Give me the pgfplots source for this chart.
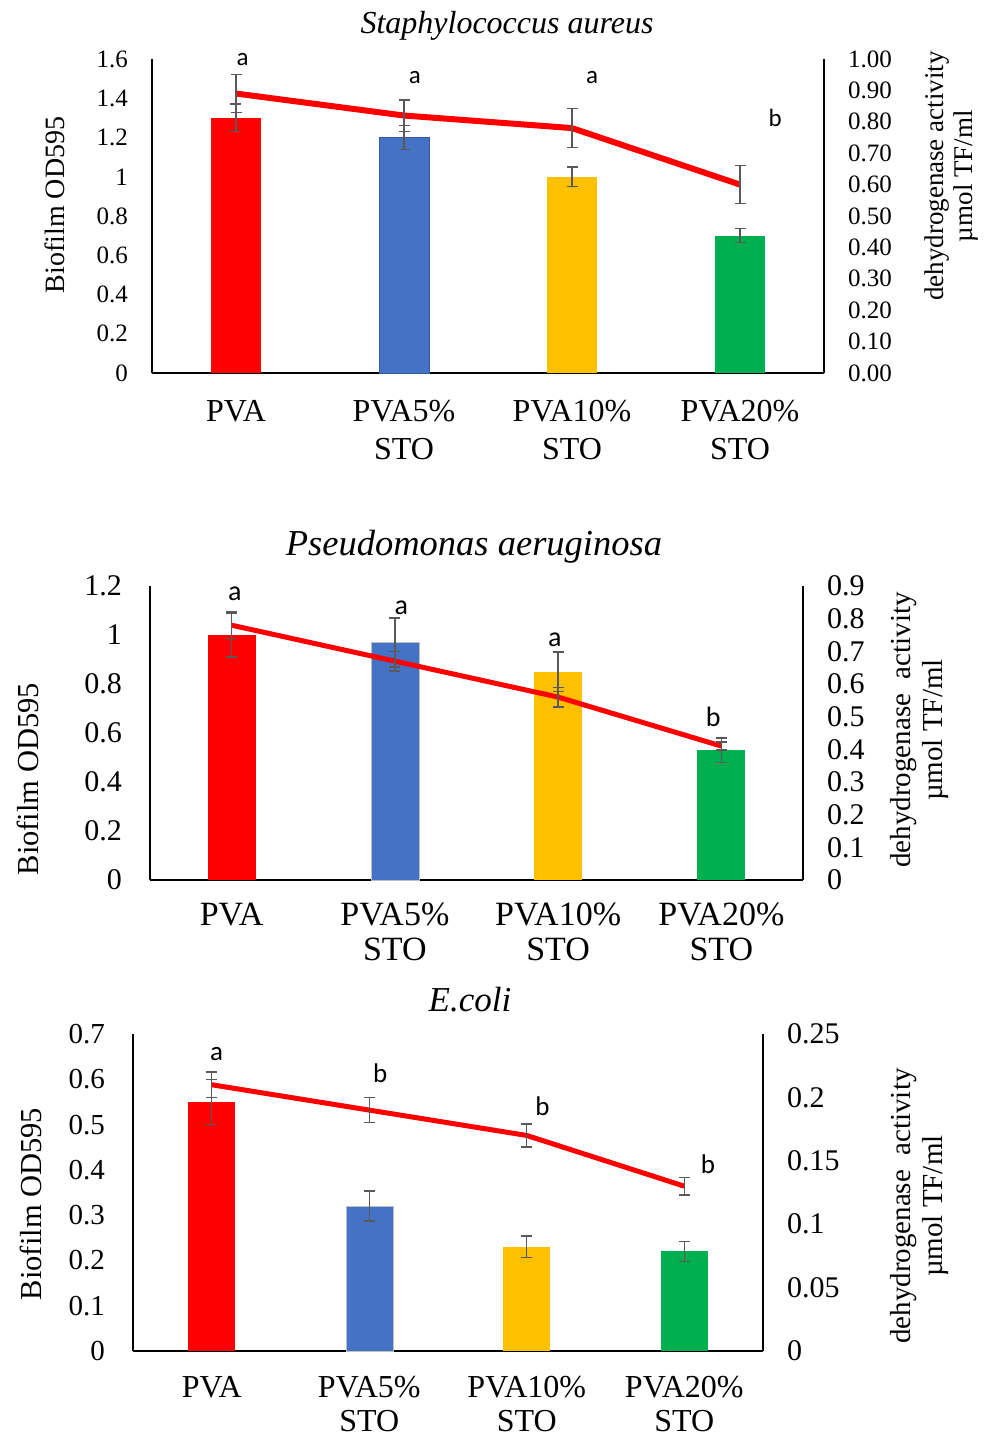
\documentclass[border=0pt]{standalone}
\usepackage{pgfplots}
\pgfplotsset{compat=1.18}
\usepackage{fontspec}
\setmainfont{Liberation Serif}
\newfontfamily\calfont{Carlito}
\definecolor{cred}{HTML}{FF0000}
\definecolor{cblue}{HTML}{4472C4}
\definecolor{cyel}{HTML}{FFC000}
\definecolor{cgreen}{HTML}{00B050}
\definecolor{cerr}{HTML}{595959}
\newcommand{\fs}[1]{\fontsize{#1}{#1}\selectfont}
\pgfplotsset{
  errs/.style={error bars/.cd, y dir=both, y explicit,
    error bar style={cerr,line width=1.4pt},
    error mark options={cerr,rotate=90,mark size=5.5pt,line width=1.4pt}},
  base/.style={scale only axis, anchor=south west, xmin=-0.5, xmax=3.5, clip=false,
    axis line style={black,line width=1.6pt}, major tick length=0pt,
    /pgf/number format/fixed,
    /pgf/number format/assume math mode=true},
  leftax/.style={base, axis x line*=bottom, axis y line*=left,
    xtick={0,1,2,3},
    xticklabels={PVA,{PVA5\%\\STO},{PVA10\%\\STO},{PVA20\%\\STO}},
    yticklabel style={anchor=east, inner sep=0pt, xshift=-24pt}},
  rightax/.style={base, axis x line=none, axis y line*=right,
    yticklabel style={anchor=west, inner sep=0pt, xshift=24pt}},
}
\begin{document}
\begin{tikzpicture}
\path[use as bounding box] (0,0) rectangle (991pt,-1436pt);

% ================= Panel 1 =================
\begin{axis}[leftax, at={(152pt,-373pt)}, width=672pt, height=314pt,
  ymin=0, ymax=1.6, ytick={0,0.2,0.4,0.6,0.8,1,1.2,1.4,1.6},
  yticklabel style={font=\fs{25}},
  xticklabel style={font=\fontsize{32}{38}\selectfont, align=center, anchor=north, inner sep=0pt, yshift=-27pt},
  ylabel={Biofilm OD595}, ylabel style={font=\fs{28}, at={(axis description cs:-0.144,0.535)}, anchor=center}]
\addplot[ybar, bar width=50pt, bar shift=0pt, fill=cred, draw=none, errs] coordinates {(0,1.30) +- (0,0.07)};
\addplot[ybar, bar width=50pt, bar shift=0pt, fill=cblue, draw=cblue!80!black, errs] coordinates {(1,1.20) +- (0,0.06)};
\addplot[ybar, bar width=50pt, bar shift=0pt, fill=cyel, draw=none, errs] coordinates {(2,1.00) +- (0,0.05)};
\addplot[ybar, bar width=50pt, bar shift=0pt, fill=cgreen, draw=none, errs] coordinates {(3,0.70) +- (0,0.035)};
\node[font=\calfont\fs{25}] at (axis cs:0.04,1.595) {a};
\node[font=\calfont\fs{25}] at (axis cs:1.065,1.508) {a};
\node[font=\calfont\fs{25}] at (axis cs:2.12,1.508) {a};
\node[font=\calfont\fs{25}] at (axis cs:3.21,1.30) {b};
\end{axis}
\begin{axis}[rightax, at={(152pt,-373pt)}, width=672pt, height=314pt,
  ymin=0, ymax=1, ytick={0,0.1,0.2,0.3,0.4,0.5,0.6,0.7,0.8,0.9,1},
  yticklabel style={font=\fs{25}, /pgf/number format/.cd, fixed, fixed zerofill, precision=2},
  ylabel={dehydrogenase activity\\\textmu mol TF/ml}, ylabel style={font=\fontsize{27}{29}\selectfont, align=center, at={(axis description cs:1.189,0.627)}, anchor=center, rotate=0}]
\addplot[cred, line width=6pt, mark=none, line join=round, errs] coordinates {(0,0.89) +- (0,0.06) (1,0.82) +- (0,0.05) (2,0.78) +- (0,0.062) (3,0.60) +- (0,0.06)};
\end{axis}
\node[font=\fs{32}\itshape] at (507pt,-26pt) {Staphylococcus aureus};

% ================= Panel 2 =================
\begin{axis}[leftax, at={(150pt,-880pt)}, width=653pt, height=294pt,
  ymin=0, ymax=1.2, ytick={0,0.2,0.4,0.6,0.8,1,1.2},
  yticklabel style={font=\fs{30}, xshift=-4pt},
  xticklabel style={font=\fontsize{34}{35}\selectfont, align=center, anchor=north, inner sep=0pt, yshift=-23pt},
  ylabel={Biofilm OD595}, ylabel style={font=\fs{30.5}, at={(axis description cs:-0.187,0.343)}, anchor=center}]
\addplot[ybar, bar width=48pt, bar shift=0pt, fill=cred, draw=none, errs] coordinates {(0,1.00) +- (0,0.09)};
\addplot[ybar, bar width=48pt, bar shift=0pt, fill=cblue, draw=gray!50, errs] coordinates {(1,0.97) +- (0,0.10)};
\addplot[ybar, bar width=48pt, bar shift=0pt, fill=cyel, draw=none, errs] coordinates {(2,0.85) +- (0,0.08)};
\addplot[ybar, bar width=48pt, bar shift=0pt, fill=cgreen, draw=none, errs] coordinates {(3,0.53) +- (0,0.05)};
\node[font=\calfont\fs{28}] at (axis cs:0.02,1.17) {a};
\node[font=\calfont\fs{28}] at (axis cs:1.04,1.11) {a};
\node[font=\calfont\fs{28}] at (axis cs:1.98,0.98) {a};
\node[font=\calfont\fs{28}] at (axis cs:2.95,0.665) {b};
\end{axis}
\begin{axis}[rightax, at={(150pt,-880pt)}, width=653pt, height=294pt,
  ymin=0, ymax=0.9, ytick={0,0.1,0.2,0.3,0.4,0.5,0.6,0.7,0.8,0.9},
  yticklabel style={font=\fs{30}},
  ylabel={dehydrogenase\ \ activity\\\textmu mol TF/ml}, ylabel style={font=\fontsize{29}{32}\selectfont, align=center, at={(axis description cs:1.178,0.51)}, anchor=center, rotate=0}]
\addplot[cred, line width=5pt, mark=none, line join=round, errs] coordinates {(0,0.78) +- (0,0.04) (1,0.67) +- (0,0.03) (2,0.56) +- (0,0.03) (3,0.41) +- (0,0.012)};
\end{axis}
\node[font=\fs{36.5}\itshape] at (474pt,-547pt) {Pseudomonas aeruginosa};

% ================= Panel 3 =================
\begin{axis}[leftax, at={(133pt,-1351pt)}, width=630pt, height=317pt,
  ymin=0, ymax=0.7, ytick={0,0.1,0.2,0.3,0.4,0.5,0.6,0.7},
  yticklabel style={font=\fs{29}, xshift=-4pt},
  xticklabel style={font=\fontsize{32}{34}\selectfont, align=center, anchor=north, inner sep=0pt, yshift=-25pt},
  ylabel={Biofilm OD595}, ylabel style={font=\fs{30.5}, at={(axis description cs:-0.162,0.464)}, anchor=center}]
\addplot[ybar, bar width=47pt, bar shift=0pt, fill=cred, draw=none, errs] coordinates {(0,0.55) +- (0,0.05)};
\addplot[ybar, bar width=47pt, bar shift=0pt, fill=cblue, draw=gray!50, errs] coordinates {(1,0.32) +- (0,0.033)};
\addplot[ybar, bar width=47pt, bar shift=0pt, fill=cyel, draw=none, errs] coordinates {(2,0.23) +- (0,0.024)};
\addplot[ybar, bar width=47pt, bar shift=0pt, fill=cgreen, draw=none, errs] coordinates {(3,0.22) +- (0,0.022)};
\node[font=\calfont\fs{27}] at (axis cs:0.03,0.656) {a};
\node[font=\calfont\fs{27}] at (axis cs:1.07,0.614) {b};
\node[font=\calfont\fs{27}] at (axis cs:2.10,0.541) {b};
\node[font=\calfont\fs{27}] at (axis cs:3.15,0.413) {b};
\end{axis}
\begin{axis}[rightax, at={(133pt,-1351pt)}, width=630pt, height=317pt,
  ymin=0, ymax=0.25, ytick={0,0.05,0.1,0.15,0.2,0.25},
  yticklabel style={font=\fs{30}},
  ylabel={dehydrogenase\ \ activity\\\textmu mol TF/ml}, ylabel style={font=\fontsize{29}{32}\selectfont, align=center, at={(axis description cs:1.248,0.457)}, anchor=center, rotate=0}]
\addplot[cred, line width=5pt, mark=none, line join=round, errs] coordinates {(0,0.21) +- (0,0.01) (1,0.19) +- (0,0.01) (2,0.17) +- (0,0.009) (3,0.13) +- (0,0.007)};
\end{axis}
\node[font=\fs{35}\itshape] at (470pt,-1000pt) {E.coli};
\end{tikzpicture}
\end{document}
